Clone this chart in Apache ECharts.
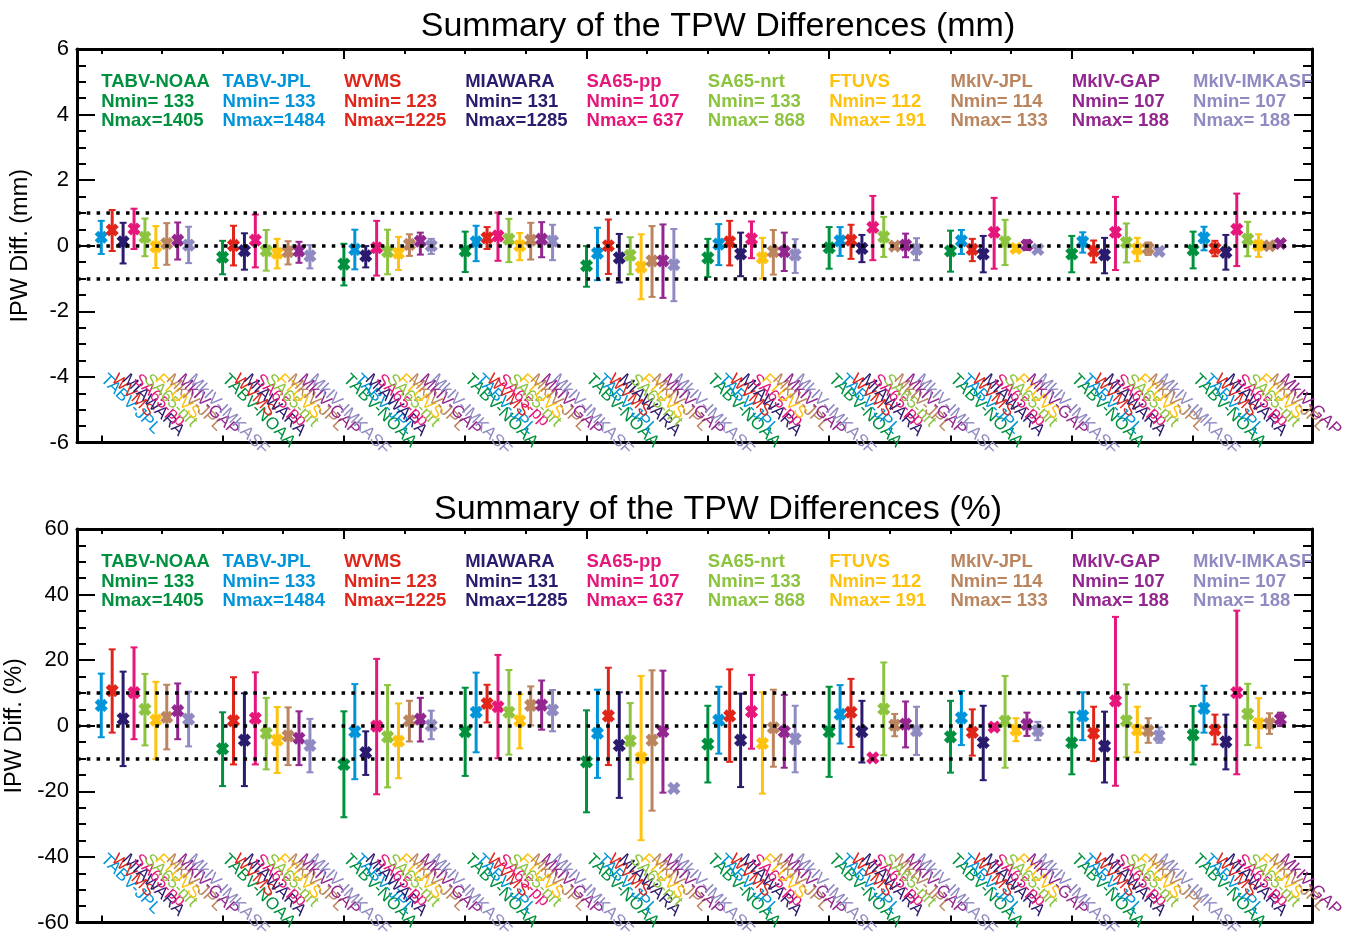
<!DOCTYPE html>
<html>
<head>
<meta charset="utf-8">
<script src="https://cdn.jsdelivr.net/npm/echarts@6/dist/echarts.min.js"></script>
<style>
  html, body { margin: 0; padding: 0; background: #fff; }
  #chart { width: 1353px; height: 933px; }
</style>
</head>
<body>
<div id="chart"></div>
<script>
// instruments, their colours and sample counts
const instruments = ['TABV-NOAA', 'TABV-JPL', 'WVMS', 'MIAWARA', 'SA65-pp', 'SA65-nrt', 'FTUVS', 'MkIV-JPL', 'MkIV-GAP', 'MkIV-IMKASF'];
const colors = ['#00913F', '#0095DA', '#E0261B', '#2B1B6E', '#E6177A', '#8CC43F', '#FFC20E', '#BB8560', '#93278F', '#8F8BC2'];
const nMin = [133, 133, 123, 131, 107, 133, 112, 114, 107, 107];
const nMax = [1405, 1484, 1225, 1285, 637, 868, 191, 133, 188, 188];

// TPW differences (mm): one row per reference instrument, 9 comparisons (the others, in order)
const mmMean = [
  [0.26, 0.48, 0.12, 0.51, 0.26, -0.03, 0.07, 0.17, 0.02],
  [-0.35, 0.01, -0.15, 0.17, -0.15, -0.23, -0.18, -0.16, -0.31],
  [-0.56, -0.11, -0.31, -0.06, -0.18, -0.23, 0.04, 0.14, 0.00],
  [-0.16, 0.12, 0.24, 0.30, 0.20, 0.00, 0.17, 0.20, 0.14],
  [-0.61, -0.23, 0.00, -0.37, -0.29, -0.65, -0.46, -0.46, -0.58],
  [-0.37, 0.05, 0.12, -0.25, 0.21, -0.37, -0.18, -0.18, -0.28],
  [-0.06, 0.15, 0.17, -0.08, 0.56, 0.27, -0.01, 0.02, -0.11],
  [-0.16, 0.15, -0.11, -0.25, 0.41, 0.12, -0.08, 0.02, -0.11],
  [-0.25, 0.12, -0.16, -0.28, 0.41, 0.10, -0.10, -0.08, -0.17],
  [-0.13, 0.24, -0.08, -0.20, 0.50, 0.20, 0.01, 0.00, 0.07]
];
const mmLow = [
  [-0.25, -0.16, -0.54, -0.10, -0.32, -0.68, -0.58, -0.42, -0.53],
  [-0.87, -0.60, -0.73, -0.66, -0.76, -0.69, -0.57, -0.52, -0.69],
  [-1.21, -0.72, -0.66, -0.91, -0.87, -0.74, -0.31, -0.27, -0.25],
  [-0.80, -0.47, -0.10, -0.46, -0.50, -0.44, -0.42, -0.35, -0.44],
  [-1.25, -1.05, -0.86, -1.12, -0.87, -1.63, -1.56, -1.59, -1.69],
  [-0.95, -0.59, -0.60, -0.93, -0.38, -1.00, -0.88, -0.77, -0.83],
  [-0.70, -0.31, -0.40, -0.50, -0.44, -0.34, -0.10, -0.35, -0.44],
  [-0.79, -0.25, -0.47, -0.81, -0.70, -0.59, -0.18, -0.13, -0.18],
  [-0.81, -0.21, -0.51, -0.84, -0.74, -0.51, -0.47, -0.28, -0.25],
  [-0.69, -0.14, -0.32, -0.73, -0.62, -0.32, -0.34, -0.06, 0.01]
];
const mmHigh = [
  [0.76, 1.09, 0.70, 1.13, 0.83, 0.60, 0.69, 0.71, 0.58],
  [0.15, 0.61, 0.38, 0.95, 0.48, 0.21, 0.14, 0.12, 0.02],
  [0.06, 0.49, -0.01, 0.76, 0.49, 0.27, 0.35, 0.40, 0.21],
  [0.43, 0.61, 0.57, 1.01, 0.82, 0.39, 0.70, 0.72, 0.64],
  [-0.01, 0.55, 0.80, 0.36, 0.26, 0.35, 0.60, 0.65, 0.51],
  [0.21, 0.66, 0.76, 0.40, 0.74, 0.24, 0.48, 0.40, 0.20],
  [0.57, 0.57, 0.64, 0.33, 1.52, 0.88, 0.08, 0.37, 0.23],
  [0.46, 0.48, 0.21, 0.30, 1.46, 0.79, 0.02, 0.17, -0.04],
  [0.30, 0.41, 0.16, 0.24, 1.49, 0.68, 0.24, 0.10, -0.09],
  [0.43, 0.58, 0.15, 0.33, 1.59, 0.73, 0.35, 0.06, 0.13]
];

// TPW differences (%)
const pctMean = [
  [6.2, 10.7, 2.1, 10.1, 5.0, 1.7, 2.6, 4.6, 2.0],
  [-7.0, 1.5, -4.4, 2.3, -2.3, -4.4, -3.1, -3.8, -6.0],
  [-11.8, -1.8, -8.2, -0.1, -3.4, -4.7, 1.5, 2.0, 0.1],
  [-1.8, 4.1, 6.8, 5.8, 4.1, 1.5, 6.2, 6.3, 4.8],
  [-11.0, -2.3, 3.0, -6.0, -4.6, -9.8, -4.4, -1.7, -19.1],
  [-5.6, 1.7, 3.0, -4.4, 4.3, -5.4, -0.6, -1.8, -4.0],
  [-1.8, 3.5, 4.1, -1.8, -9.8, 5.1, 0.2, 0.5, -1.5],
  [-3.4, 2.4, -2.0, -5.1, -0.4, 1.4, -1.3, 0.4, -1.5],
  [-5.2, 3.0, -2.3, -6.2, 7.6, 1.5, -1.3, -1.5, -3.1],
  [-2.8, 5.3, -1.3, -4.9, 10.1, 3.6, 0.7, 0.7, 2.0]
];
const pctLow = [
  [-3.5, -2.1, -12.3, -4.1, -6.0, -10.2, -7.2, -4.1, -6.3],
  [-18.4, -11.8, -18.4, -11.8, -13.3, -14.4, -12.0, -12.0, -14.2],
  [-27.9, -16.3, -15.0, -20.9, -18.8, -16.0, -4.8, -4.8, -4.1],
  [-15.3, -8.1, 1.0, -9.9, -8.8, -6.9, 0.1, -1.2, -1.7],
  [-26.4, -15.9, -12.0, -22.0, -16.3, -34.9, -25.9, -20.4, -19.6],
  [-17.3, -8.5, -11.0, -18.7, -7.0, -20.7, -12.5, -12.8, -14.2],
  [-15.6, -5.4, -6.5, -11.2, -10.3, -9.0, -3.2, -6.6, -8.9],
  [-14.3, -5.9, -9.1, -16.6, -1.4, -12.8, -4.7, -3.1, -4.4],
  [-14.8, -4.4, -10.8, -17.3, -18.3, -9.6, -8.1, -5.2, -5.2],
  [-11.8, -2.1, -5.7, -13.3, -14.8, -5.9, -6.7, -2.5, -0.1]
];
const pctHigh = [
  [15.9, 23.3, 16.5, 23.9, 15.8, 13.4, 12.5, 12.9, 10.4],
  [4.1, 14.8, 9.9, 16.3, 8.5, 5.7, 5.6, 4.4, 2.1],
  [4.4, 12.7, -1.7, 20.4, 12.4, 6.8, 7.6, 8.5, 4.6],
  [11.6, 16.2, 12.5, 21.6, 17.0, 9.6, 12.0, 13.8, 10.9],
  [4.7, 11.0, 17.7, 10.2, 6.9, 15.2, 16.9, 16.8, -18.6],
  [6.1, 11.9, 17.2, 9.8, 15.5, 10.2, 11.0, 9.4, 6.1],
  [11.9, 12.4, 14.3, 7.6, -9.3, 19.3, 3.6, 7.4, 5.8],
  [7.6, 10.6, 5.0, 6.1, 0.6, 15.2, 2.3, 4.0, 1.2],
  [4.1, 10.2, 5.8, 4.3, 33.2, 12.6, 5.8, 2.3, -0.5],
  [6.0, 12.2, 3.4, 3.4, 35.1, 12.8, 8.4, 3.8, 4.0]
];

const refLinesMm = [-1, 0, 1];
const refLinesPct = [-10, 0, 10];
const legendRowsMm = [5.0, 4.4, 3.8];
const legendRowsPct = [50, 44, 38];
const labelYMm = -4;
const labelYPct = -40;
const groupTicks = [0, 1, 2, 3, 4, 5, 6, 7, 8, 9];
const topMinorTicks = [0, 0.5, 1, 1.5, 2, 2.5, 3, 3.5, 4, 4.5, 5, 5.5, 6, 6.5, 7, 7.5, 8, 8.5, 9, 9.5];
const topMajorTicks = [2, 4, 6, 8];
const barStep = 0.09;

const FONT = '"Liberation Sans", Arial, Helvetica, sans-serif';

const othersOf = (g) => instruments.map((_, i) => i).filter((i) => i !== g);
const pad4 = (n) => String(n).padStart(4, ' ');

function buildBars(mean, low, high) {
  const out = [];
  for (let g = 0; g < instruments.length; g++) {
    othersOf(g).forEach((idx, k) => {
      out.push([g + k * barStep, mean[g][k], low[g][k], high[g][k], idx]);
    });
  }
  return out;
}

function buildLabels(y) {
  const out = [];
  for (let g = 0; g < instruments.length; g++) {
    othersOf(g).forEach((idx, k) => {
      out.push([g + k * barStep, y, idx]);
    });
  }
  return out;
}

function buildLegend(rows) {
  const out = [];
  for (let i = 0; i < instruments.length; i++) {
    rows.forEach((y, r) => out.push([i, y, i, r]));
  }
  return out;
}

function renderBar(params, api) {
  const x = api.value(0);
  const p = api.coord([x, api.value(1)]);
  const lo = api.coord([x, api.value(2)]);
  const hi = api.coord([x, api.value(3)]);
  const c = colors[api.value(4)];
  const cap = 3.5, m = 4.8;
  return {
    type: 'group',
    children: [
      { type: 'line', shape: { x1: p[0], y1: hi[1], x2: p[0], y2: lo[1] }, style: { stroke: c, lineWidth: 3 } },
      { type: 'line', shape: { x1: p[0] - cap, y1: hi[1], x2: p[0] + cap, y2: hi[1] }, style: { stroke: c, lineWidth: 2 } },
      { type: 'line', shape: { x1: p[0] - cap, y1: lo[1], x2: p[0] + cap, y2: lo[1] }, style: { stroke: c, lineWidth: 2 } },
      { type: 'line', shape: { x1: p[0] - m, y1: p[1] - m, x2: p[0] + m, y2: p[1] + m }, style: { stroke: c, lineWidth: 5 } },
      { type: 'line', shape: { x1: p[0] - m, y1: p[1] + m, x2: p[0] + m, y2: p[1] - m }, style: { stroke: c, lineWidth: 5 } }
    ]
  };
}

function renderLabel(params, api) {
  const p = api.coord([api.value(0), api.value(1)]);
  const i = api.value(2);
  return {
    type: 'text',
    x: p[0] + 2,
    y: p[1],
    rotation: -Math.PI / 4,
    style: { text: instruments[i], fill: colors[i], font: '17px ' + FONT, align: 'left', verticalAlign: 'middle' }
  };
}

function renderLegend(params, api) {
  const p = api.coord([api.value(0), api.value(1)]);
  const i = api.value(2), r = api.value(3);
  const txt = r === 0 ? instruments[i] : r === 1 ? 'Nmin=' + pad4(nMin[i]) : 'Nmax=' + pad4(nMax[i]);
  return {
    type: 'text',
    x: p[0],
    y: p[1],
    style: { text: txt, fill: colors[i], font: 'bold 18.5px ' + FONT, align: 'left', verticalAlign: 'middle' }
  };
}

function xAxesFor(grid) {
  const line = { show: true, onZero: false, lineStyle: { color: '#000', width: 3 } };
  return [
    {
      gridIndex: grid, type: 'value', position: 'bottom', min: -0.2, max: 9.98,
      axisLine: line,
      axisTick: { show: true, inside: true, length: 7, lineStyle: { color: '#000', width: 2 }, customValues: groupTicks },
      axisLabel: { show: false }, splitLine: { show: false }
    },
    {
      gridIndex: grid, type: 'value', position: 'top', min: -0.2, max: 9.98,
      axisLine: line,
      axisTick: { show: true, inside: true, length: 5, lineStyle: { color: '#000', width: 2 }, customValues: topMinorTicks },
      axisLabel: { show: false }, splitLine: { show: false }
    },
    {
      gridIndex: grid, type: 'value', position: 'top', min: -0.2, max: 9.98,
      axisLine: { show: false, onZero: false },
      axisTick: { show: true, inside: true, length: 10, lineStyle: { color: '#000', width: 2 }, customValues: topMajorTicks },
      axisLabel: { show: false }, splitLine: { show: false }
    }
  ];
}

function yAxesFor(grid, min, max, interval, name) {
  const line = { show: true, onZero: false, lineStyle: { color: '#000', width: 3 } };
  const tick = { show: true, inside: true, length: 18, lineStyle: { color: '#000', width: 2 } };
  const minor = { show: true, splitNumber: 4, length: 9, lineStyle: { color: '#000', width: 2 } };
  return [
    {
      gridIndex: grid, type: 'value', position: 'left', min, max, interval,
      name, nameLocation: 'middle', nameGap: 44,
      nameTextStyle: { fontSize: 23.5, fontFamily: FONT, color: '#000' },
      axisLine: line, axisTick: tick, minorTick: minor,
      axisLabel: { fontSize: 22, fontFamily: FONT, color: '#000', margin: 8 },
      splitLine: { show: false }
    },
    {
      gridIndex: grid, type: 'value', position: 'right', min, max, interval,
      axisLine: line, axisTick: tick, minorTick: minor,
      axisLabel: { show: false }, splitLine: { show: false }
    }
  ];
}

function seriesFor(grid, mean, low, high, refs, labelY, legendRows) {
  const xi = grid * 3, yi = grid * 2;
  return [
    {
      type: 'line', xAxisIndex: xi, yAxisIndex: yi, data: [], silent: true,
      markLine: {
        symbol: 'none', silent: true, animation: false,
        label: { show: false },
        lineStyle: { color: '#000', width: 3.5, type: [3.5, 6.3] },
        data: refs.map((v) => ({ yAxis: v }))
      }
    },
    {
      type: 'custom', xAxisIndex: xi, yAxisIndex: yi, clip: false,
      renderItem: renderLabel, data: buildLabels(labelY), silent: true
    },
    {
      type: 'custom', xAxisIndex: xi, yAxisIndex: yi, clip: false,
      renderItem: renderBar, data: buildBars(mean, low, high), silent: true
    },
    {
      type: 'custom', xAxisIndex: xi, yAxisIndex: yi, clip: false,
      renderItem: renderLegend, data: buildLegend(legendRows), silent: true
    }
  ];
}

const myChart = echarts.init(document.getElementById('chart'), null, { renderer: 'canvas' });

const option = {
  backgroundColor: '#fff',
  animation: false,
  title: [
    {
      text: 'Summary of the TPW Differences (mm)', left: 718, top: 10, textAlign: 'center', padding: 0,
      textStyle: { fontSize: 34, fontWeight: 'normal', fontFamily: FONT, color: '#000' }
    },
    {
      text: 'Summary of the TPW Differences (%)', left: 718, top: 493, textAlign: 'center', padding: 0,
      textStyle: { fontSize: 34, fontWeight: 'normal', fontFamily: FONT, color: '#000' }
    }
  ],
  grid: [
    { left: 77, top: 49, width: 1235, height: 393.5, containLabel: false, outerBoundsMode: 'none' },
    { left: 77, top: 529, width: 1235, height: 393.5, containLabel: false, outerBoundsMode: 'none' }
  ],
  xAxis: [...xAxesFor(0), ...xAxesFor(1)],
  yAxis: [
    ...yAxesFor(0, -6, 6, 2, 'IPW Diff. (mm)'),
    ...yAxesFor(1, -60, 60, 20, 'IPW Diff. (%)')
  ],
  series: [
    ...seriesFor(0, mmMean, mmLow, mmHigh, refLinesMm, labelYMm, legendRowsMm),
    ...seriesFor(1, pctMean, pctLow, pctHigh, refLinesPct, labelYPct, legendRowsPct)
  ]
};

option && myChart.setOption(option);
window.addEventListener('resize', myChart.resize);
</script>
</body>
</html>
